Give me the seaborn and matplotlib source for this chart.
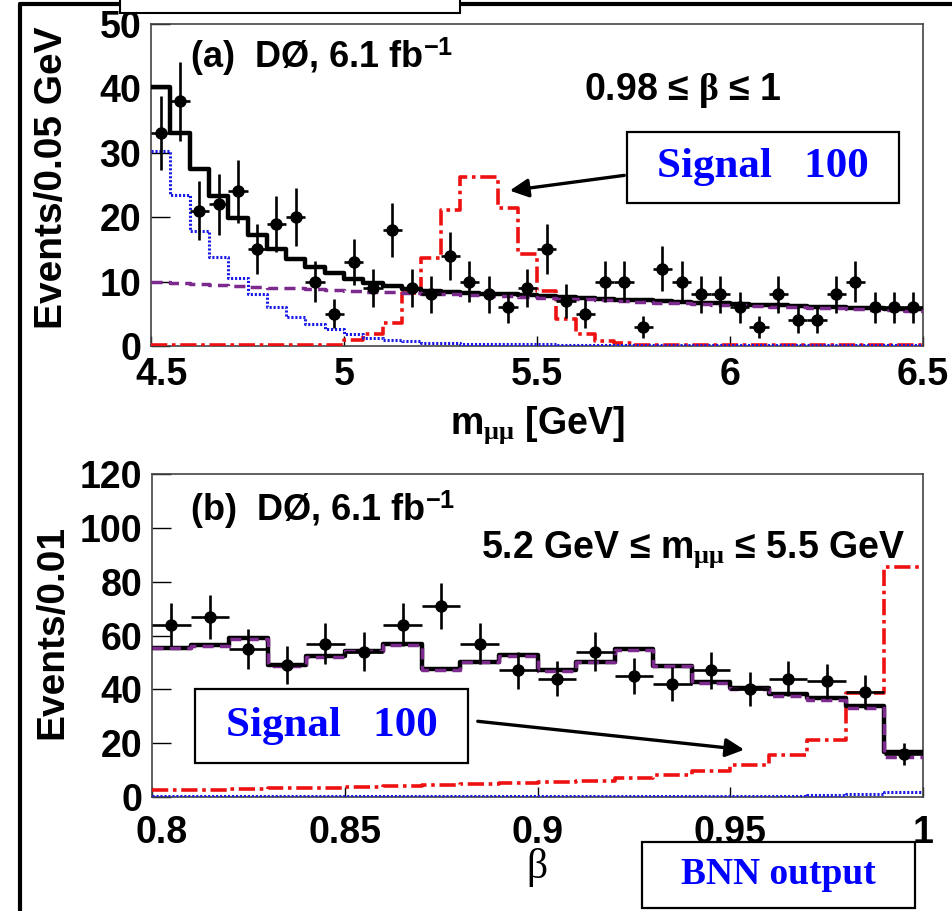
import numpy as np
import pandas as pd
import matplotlib
matplotlib.use("Agg")
import matplotlib.pyplot as plt
import matplotlib.transforms as mtransforms
import seaborn as sns
from matplotlib.patches import Rectangle, FancyArrowPatch
from matplotlib.lines import Line2D

# ---------------- data: panel (a) m_mumu, 0.05 GeV bins -----------------
mass_lo, mass_hi, mass_w = 4.5, 6.5, 0.05
data_a = [33, 38, 21, 22, 24, 15, 19, 20, 10, 5,
          13, 9, 18, 9, 8, 14, 10, 8, 6, 9,
          15, 7, 5, 10, 10, 3, 12, 10, 8, 8,
          6, 3, 8, 4, 4, 8, 10, 6, 6, 6]
comb_a = [9.9, 9.75, 9.6, 9.5, 9.35, 9.2, 9.05, 8.95, 8.8, 8.7,
          8.55, 8.45, 8.35, 8.2, 8.1, 8.0, 7.9, 7.8, 7.7, 7.6,
          7.45, 7.35, 7.25, 7.1, 7.0, 6.9, 6.75, 6.65, 6.55, 6.4,
          6.3, 6.2, 6.1, 6.0, 5.9, 5.85, 5.75, 5.65, 5.6, 5.5]
seq_a = [30.3, 23.4, 17.9, 13.8, 10.5, 8.0, 6.0, 4.5, 3.4, 2.6,
         1.8, 1.3, 0.9, 0.7, 0.5, 0.4, 0.35, 0.3, 0.3, 0.25,
         0.25, 0.2, 0.2, 0.2, 0.2, 0.2, 0.2, 0.2, 0.2, 0.2,
         0.2, 0.2, 0.2, 0.2, 0.2, 0.2, 0.2, 0.2, 0.2, 0.2]
sig_a = [0.2, 0.2, 0.2, 0.2, 0.2, 0.2, 0.2, 0.2, 0.2, 0.2,
         0.9, 1.9, 3.6, 8.3, 13.7, 21.1, 26.3, 26.3, 21.4, 14.3,
         8.6, 4.2, 1.8, 0.8, 0.4, 0.2, 0.2, 0.2, 0.2, 0.2,
         0.2, 0.2, 0.2, 0.2, 0.2, 0.2, 0.2, 0.2, 0.2, 0.2]
xticks_a = [4.5, 5, 5.5, 6, 6.5]
xtlab_a = ["4.5", "5", "5.5", "6", "6.5"]
yticks_a = [0, 10, 20, 30, 40, 50]

# ---------------- data: panel (b) BNN output, 0.01 bins -----------------
beta_lo, beta_hi, beta_w = 0.8, 1.0, 0.01
data_b = [64, 67, 55, 49, 57, 54, 64, 71, 57, 47,
          44, 54, 45, 42, 47, 40, 44, 43, 39, 16]
comb_b = [55.3, 56.2, 58.7, 48.8, 52.1, 54.1, 56.5, 47.2, 50.0, 52.3,
          46.9, 50.0, 54.6, 48.5, 42.5, 40.0, 37.7, 36.0, 32.9, 14.7]
seq_b = [0.2, 0.2, 0.2, 0.2, 0.2, 0.2, 0.2, 0.2, 0.2, 0.3,
         0.3, 0.3, 0.3, 0.3, 0.4, 0.4, 0.5, 0.6, 1.0, 2.0]
sig_b = [2.5, 2.7, 2.9, 3.2, 3.4, 3.7, 4.0, 4.3, 4.7, 5.1,
         5.4, 6.1, 6.9, 8.2, 9.8, 11.9, 15.6, 21.2, 38.5, 85.6]
xticks_b = [0.8, 0.85, 0.9, 0.95, 1.0]
xtlab_b = ["0.8", "0.85", "0.9", "0.95", "1"]
yticks_b = [0, 20, 40, 60, 80, 100, 120]

# ---------------- style -----------------
sns.set_theme(style="ticks")
plt.rcParams["font.family"] = ["Liberation Sans", "DejaVu Sans"]
plt.rcParams["font.weight"] = "bold"
plt.rcParams["text.color"] = "black"
plt.rcParams["axes.labelcolor"] = "black"
plt.rcParams["xtick.color"] = "black"
plt.rcParams["ytick.color"] = "black"
plt.rcParams["xtick.labelcolor"] = "black"
plt.rcParams["ytick.labelcolor"] = "black"
plt.rcParams["mathtext.fontset"] = "custom"
plt.rcParams["mathtext.rm"] = "Liberation Serif"
plt.rcParams["mathtext.bf"] = "Liberation Sans:bold"
plt.rcParams["mathtext.it"] = "Liberation Serif:italic"

W, H = 952, 911
fig = plt.figure(figsize=(W / 100, H / 100), dpi=100)
fig.patch.set_facecolor("white")


def fx(px):
    return px / W


def fy(py):
    return 1 - py / H


ax_a = fig.add_axes([fx(151), fy(346), fx(923) - fx(151), fy(24) - fy(346)])
ax_b = fig.add_axes([fx(152), fy(797), fx(923) - fx(152), fy(474) - fy(797)])

PURPLE = "#7D2A8E"
BLUE = "#1A1AE6"
RED = "#EE1111"


def step(ax, edges, vals, **kw):
    df = pd.DataFrame({"x": edges, "y": list(vals) + [vals[-1]]})
    sns.lineplot(data=df, x="x", y="y", drawstyle="steps-post", sort=False,
                 estimator=None, legend=False, ax=ax, **kw)


def panel(ax, lo, hi, w, data, comb, seq, sig, xpad):
    n = len(data)
    edges = np.linspace(lo, hi, n + 1)
    centers = 0.5 * (edges[:-1] + edges[1:])
    total = [c + s for c, s in zip(comb, seq)]
    step(ax, edges, sig, color=RED, lw=2.6, linestyle=(0, (4.5, 1.3, 1, 1.3)), zorder=3)
    step(ax, edges, seq, color=BLUE, lw=2.2, linestyle=(0, (0.7, 0.6)), zorder=3)
    step(ax, edges, total, color="black", lw=3.2, zorder=4)
    step(ax, edges, comb, color=PURPLE, lw=2.5, linestyle=(0, (3.2, 1.8)), zorder=5)
    ax.errorbar(centers, data, yerr=np.sqrt(data), xerr=w / 2, fmt="none",
                ecolor="black", elinewidth=1.9, capsize=0, zorder=6)
    sns.scatterplot(x=centers, y=data, color="black", s=80, marker="o",
                    edgecolor="black", linewidth=0, zorder=7, ax=ax, legend=False)
    ax.set_xlim(lo, hi)
    ax.set_xlabel("")
    ax.set_ylabel("")
    for s in ax.spines.values():
        s.set_color("#444444")
        s.set_linewidth(1.2)
    ax.tick_params(axis="y", direction="in", length=14, width=1.0, pad=7,
                   labelsize=27, color="black", labelcolor="black")
    ax.tick_params(axis="x", direction="in", length=7, width=1.0, pad=xpad,
                   labelsize=27, color="black", labelcolor="black")


def shift_first_xlabel(ax, dx_px):
    lab = ax.get_xticklabels()[0]
    off = mtransforms.ScaledTranslation(dx_px / 100, 0, fig.dpi_scale_trans)
    lab.set_transform(lab.get_transform() + off)


panel(ax_a, mass_lo, mass_hi, mass_w, data_a, comb_a, seq_a, sig_a, 8)
ax_a.set_ylim(0, 50)
ax_a.set_yticks(yticks_a)
ax_a.set_yticklabels([str(v) for v in yticks_a], fontweight="bold")
ax_a.set_xticks(xticks_a)
ax_a.set_xticklabels(xtlab_a, fontweight="bold")

panel(ax_b, beta_lo, beta_hi, beta_w, data_b, comb_b, seq_b, sig_b, 13)
ax_b.set_ylim(0, 120)
ax_b.set_yticks(yticks_b)
ax_b.set_yticklabels([str(v) for v in yticks_b], fontweight="bold")
ax_b.set_xticks(xticks_b)
ax_b.set_xticklabels(xtlab_b, fontweight="bold")

fig.canvas.draw()
shift_first_xlabel(ax_a, 10)
shift_first_xlabel(ax_b, 10)

# ---------------- texts -----------------
fig.text(fx(52), fy(178), "Events/0.05 GeV", rotation=90, ha="center", va="center",
         fontsize=28, fontweight="bold")
fig.text(fx(52), fy(632), "Events/0.01", rotation=90, ha="center", va="center",
         fontsize=28, fontweight="bold")
fig.text(fx(537), fy(434), r"m$_{\mathrm{μμ}}$ [GeV]", ha="center", va="baseline",
         fontsize=27, fontweight="bold")
fig.text(fx(537), fy(878), "β", ha="center", va="baseline",
         fontsize=30, fontweight="normal", family=["Liberation Serif", "DejaVu Serif"])

fig.text(fx(190), fy(68), r"(a)  DØ, 6.1 fb$^{\mathbf{-1}}$", ha="left", va="baseline",
         fontsize=26, fontweight="bold")
fig.text(fx(683), fy(100), r"0.98 ≤ $\mathrm{β}$ ≤ 1", ha="center", va="baseline",
         fontsize=27, fontweight="bold")
fig.text(fx(190), fy(521), r"(b)  DØ, 6.1 fb$^{\mathbf{-1}}$", ha="left", va="baseline",
         fontsize=26, fontweight="bold")
fig.text(fx(905), fy(558), r"5.2 GeV ≤ m$_{\mathrm{μμ}}$ ≤ 5.5 GeV", ha="right",
         va="baseline", fontsize=27, fontweight="bold")

# ---------------- boxes and arrows -----------------
def box(x0, y0, x1, y1, text=None, size=31, lw=1.6):
    r = Rectangle((fx(x0), fy(y1)), fx(x1) - fx(x0), fy(y0) - fy(y1),
                  transform=fig.transFigure, facecolor="white", edgecolor="black",
                  linewidth=lw, zorder=20)
    fig.add_artist(r)
    if text:
        fig.text(fx((x0 + x1) / 2), fy((y0 + y1) / 2), text, ha="center",
                 va="center", color="#0000FF", fontsize=size, fontweight="bold",
                 family=["Liberation Serif", "DejaVu Serif"], zorder=21)


def arrow(x0, y0, x1, y1):
    a = FancyArrowPatch((fx(x0), fy(y0)), (fx(x1), fy(y1)), transform=fig.transFigure,
                        arrowstyle="-|>", mutation_scale=28, linewidth=2.4,
                        color="black", zorder=19)
    fig.add_artist(a)


box(627, 132, 899, 203, "Signal   100")
arrow(627, 175, 507, 191)
box(195, 689, 468, 763, "Signal   100")
arrow(475, 721, 747, 750)
box(642, 842, 915, 908, "BNN output", size=27)

# outer frame
fig.add_artist(Line2D([fx(20), fx(20)], [fy(4), fy(915)], transform=fig.transFigure,
                      color="black", linewidth=3, zorder=15))
fig.add_artist(Line2D([fx(20), fx(955)], [fy(4), fy(4)], transform=fig.transFigure,
                      color="black", linewidth=3, zorder=15))
box(120, -10, 460, 13, lw=1.5)

fig.savefig("out.png", dpi=100, facecolor="white")
